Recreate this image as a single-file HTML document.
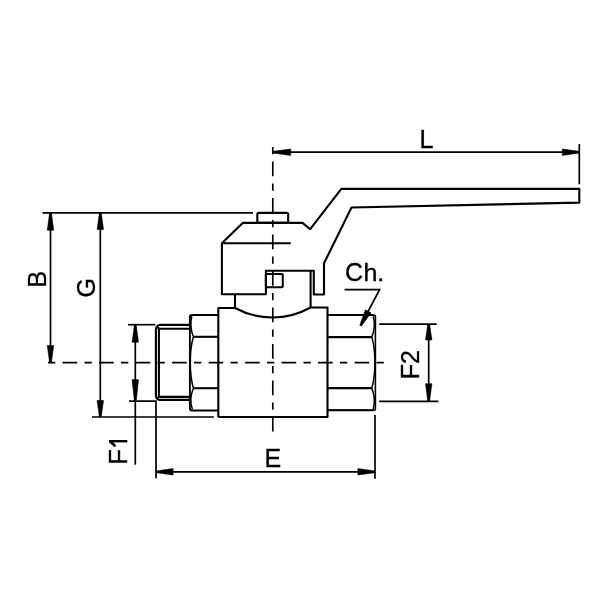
<!DOCTYPE html>
<html><head><meta charset="utf-8">
<style>
html,body{margin:0;padding:0;background:#fff;}
body{width:600px;height:600px;overflow:hidden;}
svg{display:block;will-change:transform;}
text{font-family:"Liberation Sans",sans-serif;fill:#000;}
</style></head><body>
<svg width="600" height="600" viewBox="0 0 600 600">
<rect width="600" height="600" fill="#fff"/>
<!-- centerlines -->
<g stroke="#000" stroke-width="1.65" fill="none" stroke-dasharray="7.3 7.3 14.6 7.3">
<path d="M48 362.6 H383.8"/>
<path d="M272.8 147 V431.5"/>
</g>
<!-- dimension lines -->
<g stroke="#000" stroke-width="1.7" fill="none">
<path d="M579.3 144 V184.3"/>
<path d="M273 152.2 H579.3"/>
<path d="M42.5 212.8 H253"/>
<path d="M50.5 212.8 V362.5"/>
<path d="M100.3 212.8 V417"/>
<path d="M92 417 H213.8"/>
<path d="M135.3 324.7 V464.7"/>
<path d="M128 324.7 H155.3"/>
<path d="M129 401.2 H156 V478.3"/>
<path d="M375 415 V478.7"/>
<path d="M156 471.8 H375"/>
<path d="M379.2 324.2 H436.7"/>
<path d="M379.2 401.3 H438.3"/>
<path d="M428.7 324.2 V401.3"/>
<path d="M344.6 289.65 H379.6 L362 323"/>
</g>
<!-- arrowheads -->
<g fill="#000" stroke="#000" stroke-width="0.6" stroke-linejoin="round">
<path d="M273.30 151.30 L290.70 149.00 L290.70 155.40 L273.30 153.10 Z"/>
<path d="M579.00 151.30 L562.30 149.00 L562.30 155.40 L579.00 153.10 Z"/>
<path d="M49.60 213.10 L47.30 230.20 L53.70 230.20 L51.40 213.10 Z"/>
<path d="M49.60 362.30 L47.30 345.60 L53.70 345.60 L51.40 362.30 Z"/>
<path d="M99.40 213.10 L97.10 229.40 L103.50 229.40 L101.20 213.10 Z"/>
<path d="M99.40 416.70 L97.10 400.50 L103.50 400.50 L101.20 416.70 Z"/>
<path d="M134.40 325.00 L132.10 342.20 L138.50 342.20 L136.20 325.00 Z"/>
<path d="M134.40 400.90 L132.10 379.70 L138.50 379.70 L136.20 400.90 Z"/>
<path d="M156.30 470.90 L173.10 468.60 L173.10 475.00 L156.30 472.70 Z"/>
<path d="M374.70 470.90 L357.90 468.60 L357.90 475.00 L374.70 472.70 Z"/>
<path d="M427.80 324.50 L425.50 339.90 L431.90 339.90 L429.60 324.50 Z"/>
<path d="M427.80 401.00 L425.50 383.70 L431.90 383.70 L429.60 401.00 Z"/>
<path d="M361.44 326.05 L371.02 312.79 L365.36 309.81 L359.84 325.22 Z"/>
</g>
<!-- outlines -->
<g stroke="#000" stroke-width="2.1" fill="none" stroke-linejoin="round">
<rect x="257.3" y="212.9" width="30.9" height="10" rx="1.5"/>
<path d="M302.5 222.9 L242.7 222.9 L221.9 243.2 L221.9 294.3 L265.9 294.3 L265.9 270.75 L313.8 270.75 L313.8 294.5 L324 294.5 L324 263.3 L351.5 207.5 L579.3 202.6 L579.3 188.9 L341.3 188.8 L310.2 229.2 Z"/>
<path d="M221.9 243.2 H290.8"/>
<rect x="265.9" y="274" width="16.85" height="13.25" rx="1"/>
<path d="M310.6 270.75 V307.5"/>
<path d="M235 294.3 V308"/>
<path d="M235 308 A78.5 78.5 0 0 0 310.6 307.5"/>
<path d="M218.3 417 V308 H235"/>
<path d="M310.6 307.5 H327.5 V417 H218.3"/>
<!-- left hex -->
<path d="M218.3 315 H191.9 Q189.9 315 189.9 317 V408.5 Q189.9 410.5 191.9 410.5 H218.3" stroke-width="1.9"/>
<path d="M193.3 336.8 H218.3"/>
<path d="M193.3 388.2 H218.3"/>
<path d="M191.8 316.3 Q189.2 326.5 193.4 336.8 C190.4 347 190.3 355 190.3 362.5 C190.3 370 190.4 378 193.4 388.2 Q188.9 398.5 192.3 409.3" stroke-width="1.5"/>
<!-- male thread -->
<path d="M190.3 324.9 H160.2 A4.3 4.3 0 0 0 155.9 329.2 V395.6 A4.3 4.3 0 0 0 160.2 399.9 H190.3"/>
<path d="M190.3 328.7 H158.9 V396.9 H190.3" stroke-linejoin="miter"/>
<path d="M158.9 328.7 L157.2 326.9 M158.9 396.9 L157.2 398.7"/>
<!-- right hex -->
<path d="M327.5 315 H373.9 Q375.4 315 375.4 316.5 V408.8 Q375.4 410.3 373.9 410.3 H327.5" stroke-width="1.6"/>
<path d="M327.5 315 H373.5 M327.5 410.3 H373.5"/>
<path d="M327.5 337.1 H371.8"/>
<path d="M327.5 388.1 H371.8"/>
<path d="M373.2 316.2 Q376.0 326.5 371.8 337.1 C374.8 347 374.9 355 374.9 362.5 C374.9 370 374.8 378 371.8 388.1 Q376.0 398.5 373.2 409.4" stroke-width="1.5"/>
</g>
<!-- labels -->
<g font-size="25" stroke="#000" stroke-width="0.35">
<text x="419.5" y="147.6">L</text>
<text x="264.5" y="467">E</text>
<text x="345" y="280.8">C</text>
<text transform="translate(363.4,280.8) scale(1,0.94)">h.</text>
<text transform="translate(46.3,287.5) rotate(-90)">B</text>
<text transform="translate(95.1,297.6) rotate(-90)">G</text>
<text transform="translate(127.3,464.6) rotate(-90)">F</text>
<text transform="translate(418.7,379.2) rotate(-90)">F2</text>
</g>
<path d="M109.3 441.2 H127.3" stroke="#000" stroke-width="2.4" fill="none"/>
<path d="M109 440 L111.2 440 L116.3 445.6 L114.6 447.2 L109 442.3 Z" fill="#000"/>
</svg>
</body></html>
